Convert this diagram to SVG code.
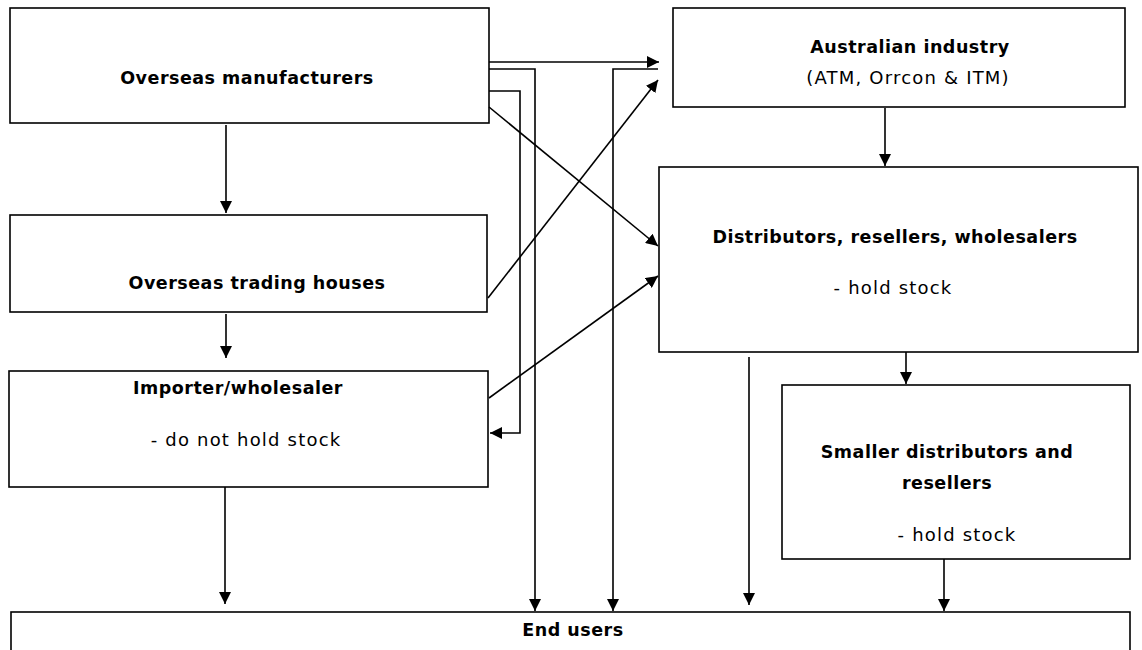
<svg xmlns="http://www.w3.org/2000/svg" width="1142" height="650" viewBox="0 0 1142 650">
<style>
rect{fill:#fff;stroke:#000;stroke-width:1.6}
.c{fill:none;stroke:#000;stroke-width:1.6}
text{font-family:"DejaVu Sans",Verdana,sans-serif;font-size:18px;letter-spacing:1.2px;fill:#000;text-anchor:middle}
.b{font-weight:bold;font-size:17.5px;letter-spacing:0.5px}
</style>
<defs>
<marker id="a" viewBox="0 0 12 12" refX="12" refY="6" markerWidth="12" markerHeight="12" markerUnits="userSpaceOnUse" orient="auto">
<path d="M0,0 L12,6 L0,12 z" fill="#000"/>
</marker>
</defs>
<rect width="1142" height="650" style="fill:#fff;stroke:none"/>
<g id="manufacturers"><rect x="10" y="8" width="479" height="115"/><text class="b" x="247" y="84">Overseas manufacturers</text></g>
<g id="australian"><rect x="673" y="8" width="452" height="99"/><text class="b" x="910" y="53">Australian industry</text><text x="908" y="84">(ATM, Orrcon &amp; ITM)</text></g>
<g id="trading"><rect x="10" y="215" width="477" height="97"/><text class="b" x="257" y="289">Overseas trading houses</text></g>
<g id="importer"><rect x="9" y="371" width="479" height="116"/><text class="b" x="238" y="394">Importer/wholesaler</text><text x="246" y="446">- do not hold stock</text></g>
<g id="distributors"><rect x="659" y="167" width="479" height="185"/><text class="b" x="895" y="243">Distributors, resellers, wholesalers</text><text x="893" y="294">- hold stock</text></g>
<g id="smaller"><rect x="782" y="385" width="348" height="174"/><text class="b" x="947" y="458">Smaller distributors and</text><text class="b" x="947" y="489">resellers</text><text x="957" y="541">- hold stock</text></g>
<g id="endusers"><rect x="11" y="612" width="1119" height="50"/><text class="b" x="573" y="636">End users</text></g>
<g id="connectors">
<path class="c" d="M226,125 V213" marker-end="url(#a)"/>
<path class="c" d="M226,314 V358" marker-end="url(#a)"/>
<path class="c" d="M225,487 V604" marker-end="url(#a)"/>
<path class="c" d="M489,62 H659" marker-end="url(#a)"/>
<path class="c" d="M489,69 H535 V611" marker-end="url(#a)"/>
<path class="c" d="M658,69 H613 V611" marker-end="url(#a)"/>
<path class="c" d="M489,91 H520 V433 H490" marker-end="url(#a)"/>
<path class="c" d="M489,107 L658,246" marker-end="url(#a)"/>
<path class="c" d="M488,298 L658,80" marker-end="url(#a)"/>
<path class="c" d="M489,398 L658,276" marker-end="url(#a)"/>
<path class="c" d="M885,108 V166" marker-end="url(#a)"/>
<path class="c" d="M906,352 V384" marker-end="url(#a)"/>
<path class="c" d="M749,357 V605" marker-end="url(#a)"/>
<path class="c" d="M944,559 V611" marker-end="url(#a)"/>
</g>
</svg>
